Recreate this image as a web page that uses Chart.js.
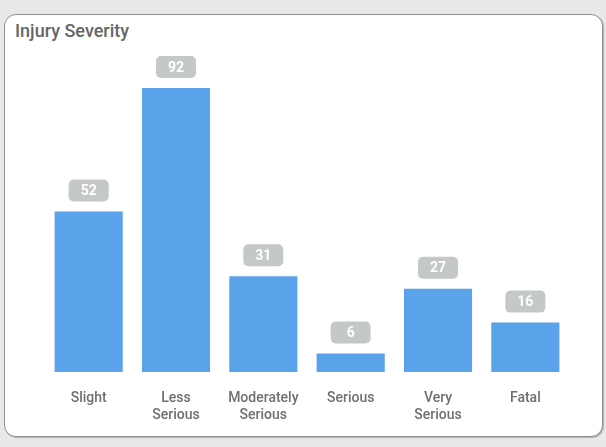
<!DOCTYPE html>
<html><head><meta charset="utf-8">
<script src="https://cdn.jsdelivr.net/npm/chart.js@4/dist/chart.umd.min.js"></script>
<style>
html,body{margin:0;padding:0;background:#e9e9e9;width:606px;height:447px;overflow:hidden;font-family:Roboto,"DejaVu Sans",sans-serif;}
#card{position:absolute;left:4px;top:14px;width:597px;height:421px;background:#fff;border:1.5px solid #8f9191;border-radius:12px;box-shadow:1px 1px 1px rgba(0,0,0,0.25);}
#title{position:absolute;left:15px;top:20px;font-size:18px;font-weight:500;color:#666;font-family:Roboto,sans-serif;}
canvas{position:absolute;left:0;top:0;}
</style></head>
<body>
<div id="card"></div>
<div id="title">Injury Severity</div>
<canvas id="c" width="606" height="447"></canvas>
<script>
const categories = [["Slight"],["Less","Serious"],["Moderately","Serious"],["Serious"],["Very","Serious"],["Fatal"]];
const values = [52, 92, 31, 6, 27, 16];

const labelPlugin = {
  id:'boxLabels',
  afterDatasetsDraw(chart){
    const ctx = chart.ctx;
    const meta = chart.getDatasetMeta(0);
    ctx.save();
    ctx.font = 'bold 14px Roboto, sans-serif';
    meta.data.forEach((bar,i)=>{
      const w = 40, h = 22;
      const x = bar.x - w/2, y = bar.y - 10 - h;
      ctx.fillStyle = '#c5c8c8';
      ctx.beginPath();
      ctx.roundRect(x,y,w,h,5);
      ctx.fill();
      ctx.fillStyle = '#ffffff';
      ctx.textAlign = 'center';
      ctx.textBaseline = 'middle';
      ctx.fillText(String(values[i]), bar.x, y + h/2 + 1);
    });
    ctx.restore();
  }
};

new Chart(document.getElementById('c'), {
  type:'bar',
  data:{labels:categories, datasets:[{data:values, backgroundColor:'#5aa2ea', barPercentage:0.78, categoryPercentage:1.0}]},
  options:{
    responsive:false, animation:false,
    layout:{padding:{left:45, right:37, top:88, bottom:0}},
    plugins:{legend:{display:false}, tooltip:{enabled:false}},
    scales:{
      y:{display:false, min:0, max:92},
      x:{
        grid:{display:false, drawTicks:false}, border:{display:false},
        ticks:{color:'#6f6f6f', font:{family:'Roboto', size:14, weight:'500'}, padding:18, maxRotation:0, autoSkip:false},
        afterFit(s){ s.height = 75; }
      }
    }
  },
  plugins:[labelPlugin]
});
</script>
</body></html>
